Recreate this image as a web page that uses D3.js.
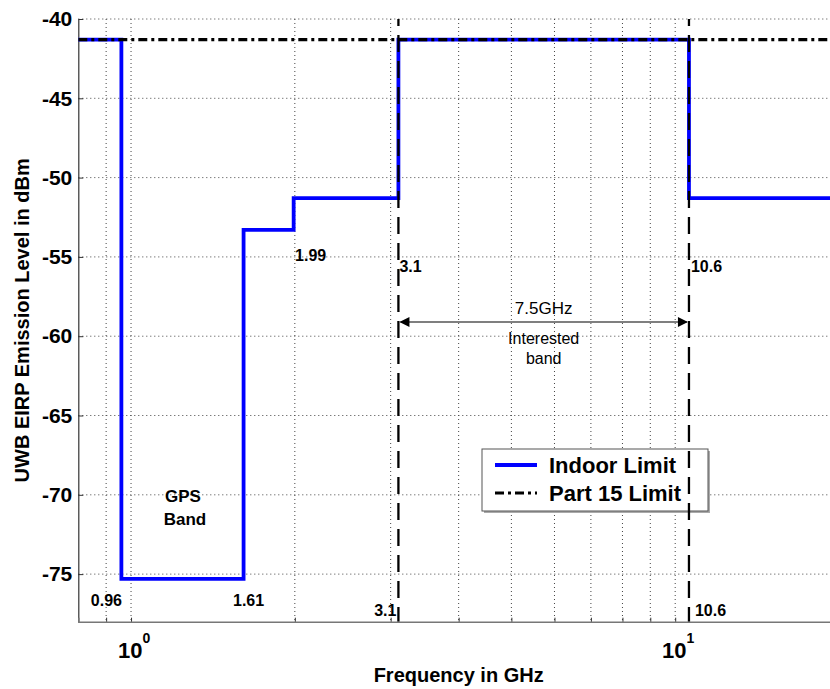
<!DOCTYPE html>
<html>
<head>
<meta charset="utf-8">
<script src="https://cdn.jsdelivr.net/npm/d3@7"></script>
<style>
  body { margin: 0; background: #fff; }
  svg { font-family: "Liberation Sans", Arial, Helvetica, sans-serif; }
</style>
</head>
<body>
<div id="chart"></div>
<script>
// step edges of the indoor mask (GHz) and the level that starts at each edge
var indoorFreq = [0.8, 0.96, 1.61, 1.99, 3.1, 10.6, 20];
var indoorLevel = [-41.3, -75.3, -53.3, -51.3, -41.3, -51.3, -51.3];
var part15Freq = [0.8, 20];
var part15Level = [-41.3, -41.3];
var bandEdges = [3.1, 10.6];
var yTicks = [-75, -70, -65, -60, -55, -50, -45, -40];
var xGrid = [0.9, 1, 2, 3, 4, 5, 6, 7, 8, 9, 10];
var xMajor = [1, 10];

var width = 830, height = 689;
var plotLeft = 78.3, plotTop = 19, plotBottom = 621.7, plotRight = 839;

var svg = d3.select("#chart").append("svg")
    .attr("width", width)
    .attr("height", height);

var x = d3.scaleLog().domain([0.8, 20]).range([plotLeft, plotRight]);
var y = d3.scaleLinear().domain([-78, -40]).range([plotBottom, plotTop]);

var defs = svg.append("defs");
defs.append("clipPath").attr("id", "plotclip")
    .append("rect")
    .attr("x", plotLeft).attr("y", plotTop)
    .attr("width", plotRight - plotLeft).attr("height", plotBottom - plotTop);
defs.append("clipPath").attr("id", "legclip")
    .append("rect").attr("x", 600).attr("y", 449).attr("width", 200).attr("height", 64);

// grid
var grid = svg.append("g");
grid.selectAll(".gy").data(yTicks).enter().append("line")
    .attr("x1", plotLeft).attr("x2", width)
    .attr("y1", function(d){ return y(d); })
    .attr("y2", function(d){ return y(d); })
    .attr("stroke", "#444").attr("stroke-width", 1)
    .attr("stroke-dasharray", "1,3");
grid.selectAll(".gx").data(xGrid).enter().append("line")
    .attr("x1", function(d){ return x(d); })
    .attr("x2", function(d){ return x(d); })
    .attr("y1", plotTop).attr("y2", plotBottom)
    .attr("stroke", "#444").attr("stroke-width", 1)
    .attr("stroke-dasharray", "1,3");

// axes
var yAxis = svg.append("g")
    .attr("transform", "translate(" + plotLeft + ",0)")
    .call(d3.axisLeft(y).tickValues(yTicks).tickSize(0).tickPadding(6)
        .tickFormat(function(d){ return String(d); }));
yAxis.select(".domain").attr("stroke", "#333").attr("stroke-width", 1.2);
yAxis.selectAll("text")
    .attr("font-size", 21).attr("font-weight", "bold")
    .attr("font-family", "Liberation Sans, Arial, sans-serif")
    .attr("fill", "#000");
// small ticks pointing in
yAxis.selectAll(".tick").append("line")
    .attr("x1", 0).attr("x2", 5).attr("stroke", "#333");

var xAxis = svg.append("g")
    .attr("transform", "translate(0," + plotBottom + ")")
    .call(d3.axisBottom(x).tickValues(xGrid).tickSize(-4).tickFormat(""));
xAxis.select(".domain").attr("stroke", "#777").attr("stroke-width", 1.5);
xAxis.selectAll(".tick line").attr("stroke", "#333");

var xLab = svg.append("g");
xMajor.forEach(function(d) {
    var t = xLab.append("text")
        .attr("x", x(d) + 3).attr("y", plotBottom + 36)
        .attr("text-anchor", "middle")
        .attr("font-size", 22).attr("font-weight", "bold");
    t.append("tspan").text("10");
    t.append("tspan").attr("dy", -15).attr("font-size", 14).text(Math.round(Math.log10(d)));
});

// axis titles
svg.append("text")
    .attr("x", (plotLeft + plotRight) / 2).attr("y", 682)
    .attr("text-anchor", "middle")
    .attr("font-size", 20).attr("font-weight", "bold")
    .text("Frequency in GHz");
svg.append("text")
    .attr("transform", "translate(29," + ((plotTop + plotBottom) / 2) + ") rotate(-90)")
    .attr("text-anchor", "middle")
    .attr("font-size", 20).attr("font-weight", "bold")
    .text("UWB EIRP Emission Level in dBm");

var plot = svg.append("g").attr("clip-path", "url(#plotclip)");

// indoor limit
var indoorLine = d3.line()
    .x(function(d){ return x(d[0]); })
    .y(function(d){ return y(d[1]); })
    .curve(d3.curveStepAfter);
plot.append("path")
    .datum(d3.zip(indoorFreq, indoorLevel))
    .attr("d", indoorLine)
    .attr("fill", "none").attr("stroke", "#0000ff").attr("stroke-width", 3.8);

// band edge dashed lines
plot.selectAll(".edge").data(bandEdges).enter().append("line")
    .attr("x1", function(d){ return x(d); })
    .attr("x2", function(d){ return x(d); })
    .attr("y1", plotTop - 10).attr("y2", plotBottom)
    .attr("stroke", "#000").attr("stroke-width", 2.3)
    .attr("stroke-dasharray", "17,9");

// part 15 limit
plot.append("path")
    .datum(d3.zip(part15Freq, part15Level))
    .attr("d", d3.line().x(function(d){ return x(d[0]); }).y(function(d){ return y(d[1]); }))
    .attr("fill", "none").attr("stroke", "#000").attr("stroke-width", 3.2)
    .attr("stroke-dasharray", "9,4,3,4");

// annotations
function label(txt, fx, yy, anchor, size, weight) {
    svg.append("text")
        .attr("x", fx).attr("y", yy)
        .attr("text-anchor", anchor || "middle")
        .attr("font-size", size || 16)
        .attr("font-weight", weight || "bold")
        .text(txt);
}
label("0.96", x(0.96) - 15, 606, "middle");
label("1.61", x(1.61) + 5, 606, "middle");
label("1.99", x(1.99) + 17, 261, "middle");
label("3.1", x(3.1) + 1, 272, "start");
label("10.6", x(10.6) + 2, 272, "start");
label("3.1", x(3.1) - 2, 616, "end");
label("10.6", x(10.6) + 6, 616, "start");
label("GPS", 183, 502, "middle", 17);
label("Band", 185, 525, "middle", 17);

// 7.5 GHz arrow
var ay = 322;
var ax1 = x(bandEdges[0]), ax2 = x(bandEdges[1]);
svg.append("line")
    .attr("x1", ax1 + 2).attr("x2", ax2 - 2)
    .attr("y1", ay).attr("y2", ay)
    .attr("stroke", "#000").attr("stroke-width", 1.2);
svg.append("path")
    .attr("d", "M" + (ax1 + 1) + "," + ay + "l10,-5l0,10z").attr("fill", "#000");
svg.append("path")
    .attr("d", "M" + (ax2 - 1) + "," + ay + "l-10,-5l0,10z").attr("fill", "#000");
var mid = (ax1 + ax2) / 2;
label("7.5GHz", mid, 314, "middle", 17, "normal");
label("Interested", mid, 344, "middle", 16, "normal");
label("band", mid, 364, "middle", 16, "normal");

// legend
var lg = svg.append("g");
lg.append("rect")
    .attr("x", 484).attr("y", 451).attr("width", 226).attr("height", 62)
    .attr("fill", "#aaa");
lg.append("rect")
    .attr("x", 482).attr("y", 449).attr("width", 226).attr("height", 62)
    .attr("fill", "#fff").attr("stroke", "#555").attr("stroke-width", 1);
var legendItems = [
    {name: "Indoor Limit", color: "#0000ff", dash: null, w: 3.8},
    {name: "Part 15 Limit", color: "#000", dash: "9,4,3,4", w: 3.2}
];
legendItems.forEach(function(d, i) {
    var ly = 465 + i * 28;
    lg.append("line")
        .attr("x1", 495).attr("x2", 537).attr("y1", ly).attr("y2", ly)
        .attr("stroke", d.color).attr("stroke-width", d.w)
        .attr("stroke-dasharray", d.dash);
    lg.append("text")
        .attr("x", 549).attr("y", ly + 8)
        .attr("font-size", 22).attr("font-weight", "bold")
        .text(d.name);
});

// the 10.6 edge line passes over the legend
svg.append("line")
    .attr("x1", x(10.6)).attr("x2", x(10.6))
    .attr("y1", plotTop - 10).attr("y2", plotBottom)
    .attr("stroke", "#000").attr("stroke-width", 2.3)
    .attr("stroke-dasharray", "17,9")
    .attr("clip-path", "url(#legclip)");
</script>
</body>
</html>
